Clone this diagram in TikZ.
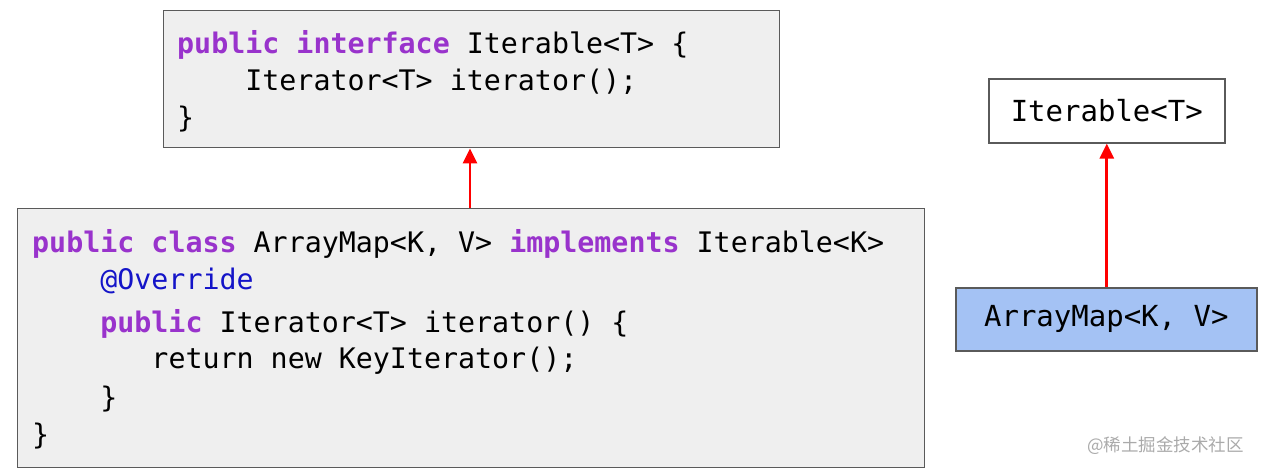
\documentclass[tikz,border=0pt]{standalone}
\usepackage{fontspec}
\setmonofont{DejaVu Sans Mono}
\newfontfamily\cjk{Noto Sans CJK SC}
\usetikzlibrary{arrows.meta}
\definecolor{kw}{RGB}{153,51,204}
\definecolor{ann}{RGB}{20,20,200}
\definecolor{codebg}{RGB}{239,239,239}
\definecolor{bluebg}{RGB}{164,194,244}
\definecolor{edge}{RGB}{90,90,90}
\definecolor{wm}{RGB}{170,170,170}
\tikzset{
  codebox/.style={draw=edge, line width=1.4pt, fill=codebg, rectangle, inner sep=0pt, anchor=north west},
  umlbox/.style={draw=edge, line width=1.6pt, rectangle, inner sep=0pt, anchor=north west, font=\fontsize{29}{34}\selectfont\ttfamily},
  codeline/.style={anchor=base west, inner sep=0pt, font=\fontsize{28.3}{34}\selectfont\ttfamily},
  redarrow/.style={draw=red, line width=2.8pt, -{Triangle[length=15pt,width=14pt]}},
}
\begin{document}
\begin{tikzpicture}[x=1pt,y=-1pt]
\useasboundingbox (0,0) rectangle (1263,471);
% boxes
\node[codebox, minimum width=616pt, minimum height=137pt] (iface) at (163,10) {};
\node[codebox, minimum width=907pt, minimum height=259pt] (cls) at (17,208) {};
\node[umlbox, fill=white, minimum width=236pt, minimum height=64pt] (iter) at (988,78) {Iterable<T>};
\node[umlbox, fill=bluebg, minimum width=301pt, minimum height=63pt] (amap) at (955,287) {ArrayMap<K, V>};
% interface code
\node[codeline] (i1) at (177,53) {\textcolor{kw}{\textbf{public}} \textcolor{kw}{\textbf{interface}} Iterable<T> \{};
\node[codeline] (i2) at (177,90) {\ \ \ \ Iterator<T> iterator();};
\node[codeline] (i3) at (177,127) {\}};
% class code
\node[codeline] (c1) at (32,252) {\textcolor{kw}{\textbf{public}} \textcolor{kw}{\textbf{class}} ArrayMap<K, V> \textcolor{kw}{\textbf{implements}} Iterable<K>};
\node[codeline] (c2) at (32,289) {\ \ \ \ \textcolor{ann}{@Override}};
\node[codeline] (c3) at (32,332) {\ \ \ \ \textcolor{kw}{\textbf{public}} Iterator<T> iterator() \{};
\node[codeline] (c4) at (32,368) {\ \ \ \ \ \ \ return new KeyIterator();};
\node[codeline] (c5) at (32,407) {\ \ \ \ \}};
\node[codeline] (c6) at (32,444) {\}};
% arrows
\draw[redarrow] (cls.north -| 470,0) -- (iface.south -| 470,0);
\draw[redarrow] (amap.north -| iter.south) -- (iter.south);
% watermark
\node[anchor=west, inner sep=0pt, text=wm, font=\cjk\fontsize{17.5}{20}\selectfont] (wmark) at (1087,446) {@稀土掘金技术社区};
\end{tikzpicture}
\end{document}
